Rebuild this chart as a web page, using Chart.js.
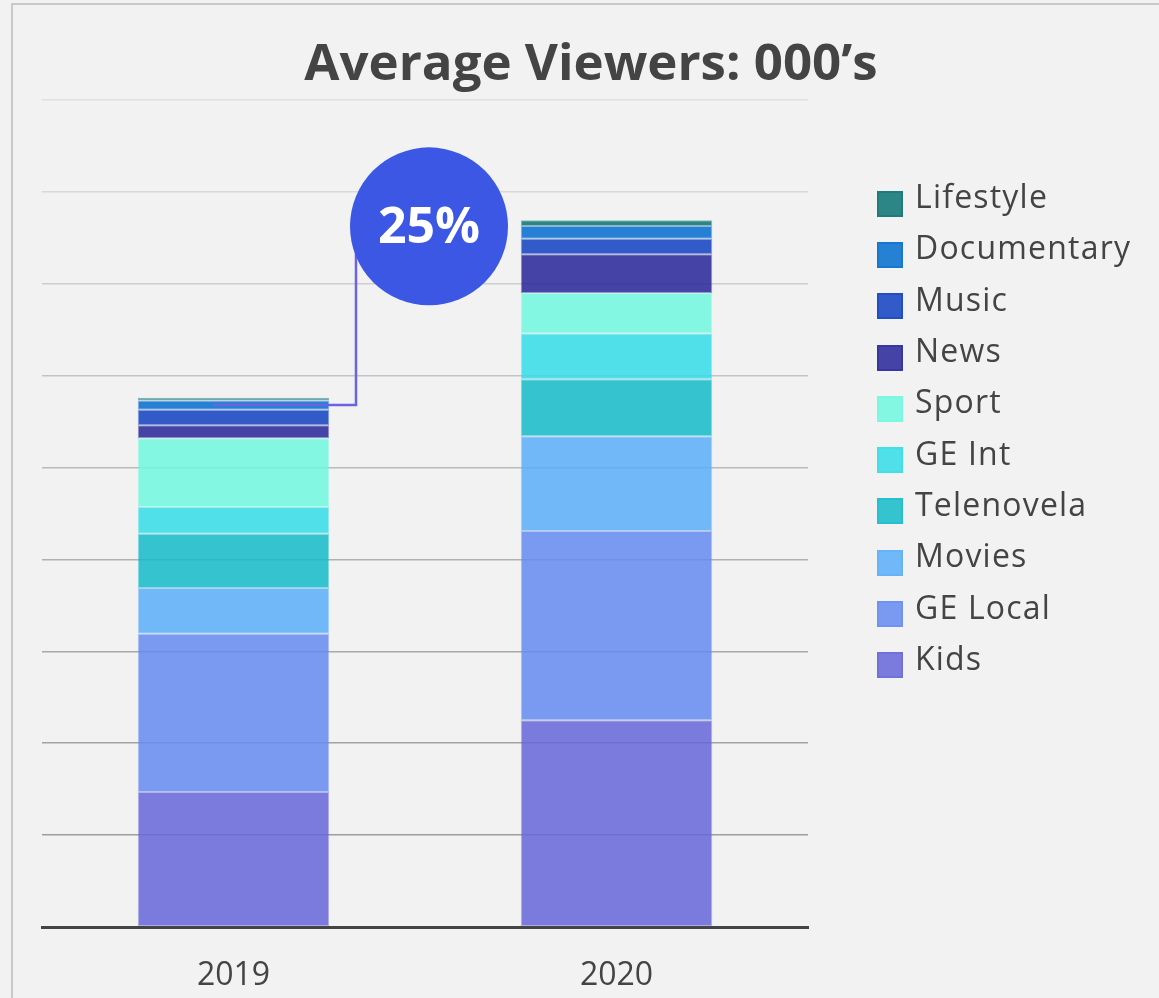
<!DOCTYPE html>
<html lang="en">
<head>
<meta charset="utf-8">
<title>Average Viewers</title>
<script src="https://cdn.jsdelivr.net/npm/chart.js@4.4.1/dist/chart.umd.min.js"></script>
<style>
    html, body {
        margin: 0;
        padding: 0;
        width: 1159px;
        height: 998px;
        overflow: hidden;
        background: #f2f2f2;
    }
    .frame {
        position: absolute;
        left: 11px;
        top: 3px;
        width: 1156px;
        height: 995px;
        border: 2px solid #c9c9c9;
        background: #f2f2f2;
    }
    .frame canvas {
        position: absolute;
        left: 0;
        top: 0;
        width: 1156px;
        height: 995px;
    }
    .title {
        position: absolute;
        left: 0;
        top: 25px;
        width: 100%;
        margin: 0;
        text-align: center;
        font-family: 'Open Sans', sans-serif;
        font-weight: bold;
        font-size: 51px;
        line-height: 1.2;
        color: #444;
    }
    #legend {
        position: absolute;
        left: 864px;
        top: 173px;
        margin: 0;
        padding: 0;
        list-style: none;
        font-family: 'Open Sans', sans-serif;
        font-size: 32px;
        letter-spacing: 1.2px;
        color: #444;
    }
    #legend li {
        display: flex;
        align-items: center;
        height: 51.3px;
        white-space: nowrap;
    }
    #legend .swatch {
        box-sizing: border-box;
        width: 26px;
        height: 26px;
        border-width: 2px;
        border-style: solid;
    }
    #legend .name {
        margin-left: 12px;
        position: relative;
        top: -8px;
    }
</style>
</head>
<body>
<div class="frame">
    <canvas id="viewersChart" width="1156" height="995"></canvas>
    <h1 class="title">Average Viewers: 000’s</h1>
    <ul id="legend"></ul>
</div>
<script>
// genres, bottom of the stack first
const genres = ['Kids', 'GE Local', 'Movies', 'Telenovela', 'GE Int', 'Sport', 'News', 'Music', 'Documentary', 'Lifestyle'];
const years = ['2019', '2020'];
const viewers2019 = [147, 172, 50, 59, 29, 75, 14, 17, 10, 3];
const viewers2020 = [225, 206, 103, 62, 50, 44, 42, 17, 14, 6];
const genreColors = ['#6666d9', '#658af0', '#5baef9', '#14bbc9', '#33dde8', '#71f8df', '#282599', '#1040c1', '#026ccf', '#0c7272'];
const growthLabel = '25%';

// grid lines fade from dark at the bottom to light at the top
const gridColors = ['transparent', '#9e9e9e', '#a3a3a3', '#a9a9a9', '#b1b1b1', '#bababa', '#c4c4c4', '#cecece', '#d8d8d8', '#e0e0e0'];

const FONT = "'Open Sans', sans-serif";
const TEXT = '#444';

const withAlpha = (hex, a) => {
    const n = parseInt(hex.slice(1), 16);
    return `rgba(${(n >> 16) & 255}, ${(n >> 8) & 255}, ${n & 255}, ${a})`;
};

const datasets = genres.map((genre, i) => ({
    label: genre,
    data: [viewers2019[i], viewers2020[i]],
    backgroundColor: withAlpha(genreColors[i], 0.85),
    borderColor: withAlpha(genreColors[i], 0.45),
    borderWidth: 1,
    borderSkipped: false,
    barPercentage: 0.5,
    categoryPercentage: 1
}));

const sum = arr => arr.reduce((a, b) => a + b, 0);

// "25%" bubble with an elbow line pointing into the 2019 stack
const growthBubble = {
    id: 'growthBubble',
    afterDatasetsDraw(chart) {
        const { ctx, scales: { x, y } } = chart;
        const x19 = x.getPixelForValue(0);
        const x20 = x.getPixelForValue(1);
        const cx = (x19 + x20) / 2 + 4;
        const cy = y.getPixelForValue(sum(viewers2020)) + 6;
        const r = 79;

        const last = genres.length - 1;
        const pointY = y.getPixelForValue(sum(viewers2019) - viewers2019[last] - viewers2019[last - 1] / 2);
        const elbowX = cx - 73;

        ctx.save();
        ctx.strokeStyle = '#6c63e3';
        ctx.lineWidth = 2.5;
        ctx.beginPath();
        ctx.moveTo(elbowX, cy);
        ctx.lineTo(elbowX, pointY);
        ctx.lineTo(x19 - 20, pointY);
        ctx.stroke();

        ctx.fillStyle = '#3b57e4';
        ctx.beginPath();
        ctx.arc(cx, cy, r, 0, Math.PI * 2);
        ctx.fill();

        ctx.fillStyle = '#fff';
        ctx.font = `bold 50px ${FONT}`;
        ctx.textAlign = 'center';
        ctx.textBaseline = 'middle';
        ctx.fillText(growthLabel, cx, cy + 2);
        ctx.restore();
    }
};

const chart = new Chart(document.getElementById('viewersChart'), {
    type: 'bar',
    data: { labels: years, datasets: datasets },
    options: {
        responsive: false,
        maintainAspectRatio: false,
        animation: false,
        layout: { padding: { left: 29, right: 361, top: 95, bottom: 0 } },
        plugins: {
            legend: { display: false },
            tooltip: { enabled: false }
        },
        scales: {
            x: {
                stacked: true,
                grid: { display: false, drawTicks: false },
                border: { color: '#444', width: 3 },
                ticks: {
                    color: TEXT,
                    padding: 30,
                    font: { family: FONT, size: 32 }
                },
                afterFit: scale => { scale.height = 73; }
            },
            y: {
                stacked: true,
                min: 0,
                max: 900,
                border: { display: false },
                grid: { color: gridColors, lineWidth: 1.5, drawTicks: false },
                ticks: { display: false, stepSize: 100 }
            }
        }
    },
    plugins: [growthBubble]
});

// legend listed top-down, same order as the stack
const legendList = document.getElementById('legend');
genres.slice().reverse().forEach(genre => {
    const i = genres.indexOf(genre);
    const li = document.createElement('li');
    const swatch = document.createElement('span');
    swatch.className = 'swatch';
    swatch.style.background = withAlpha(genreColors[i], 0.85);
    swatch.style.borderColor = withAlpha(genreColors[i], 0.45);
    const name = document.createElement('span');
    name.className = 'name';
    name.textContent = genre;
    li.appendChild(swatch);
    li.appendChild(name);
    legendList.appendChild(li);
});
</script>
</body>
</html>
